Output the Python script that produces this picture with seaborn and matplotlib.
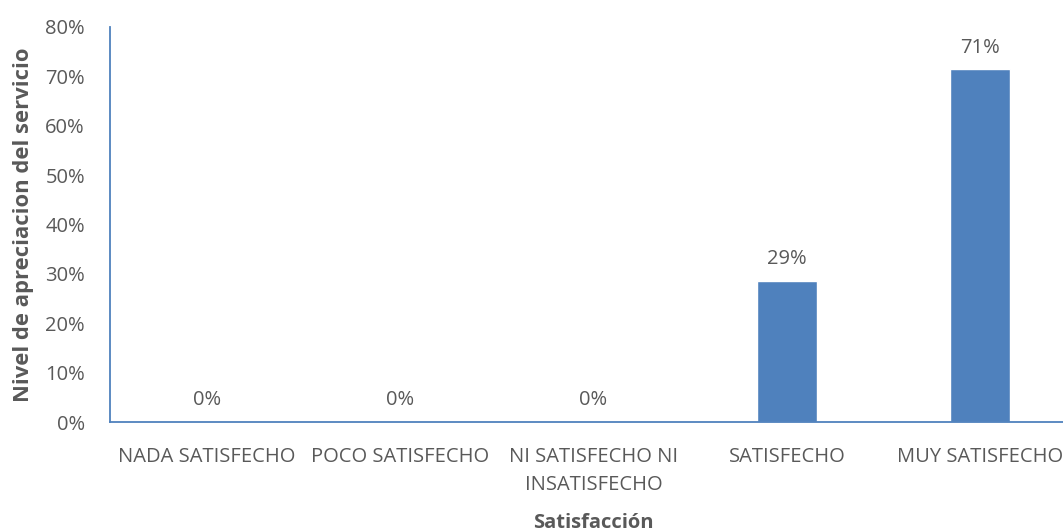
import matplotlib
matplotlib.use("Agg")
import matplotlib.pyplot as plt
import seaborn as sns
import pandas as pd

categories = ["NADA SATISFECHO", "POCO SATISFECHO", "NI SATISFECHO NI\nINSATISFECHO",
              "SATISFECHO", "MUY SATISFECHO"]
values = [0.0, 0.0, 0.0, 0.2857, 0.7143]
labels = ["0%", "0%", "0%", "29%", "71%"]
yticks = [0, 0.1, 0.2, 0.3, 0.4, 0.5, 0.6, 0.7, 0.8]

sns.set_theme(style="white")
plt.rcParams['font.family'] = ['Open Sans', 'DejaVu Sans']

df = pd.DataFrame({"cat": categories, "val": values})
text_col = "#595959"
bar_col = "#4F81BD"

fig = plt.figure(figsize=(10.63, 5.31), dpi=100)
ax = fig.add_axes([110/1063, (531-422)/531, 967/1063, 395/531])
sns.barplot(data=df, x="cat", y="val", color=bar_col, width=0.31, ax=ax, saturation=1)
ax.set_xlim(-0.5, 4.5)
ax.set_ylim(0, 0.8)
ax.set_yticks(yticks)
ax.set_yticklabels([f"{int(round(t*100))}%" for t in yticks])
ax.tick_params(axis='both', length=0, colors=text_col, labelsize=14.5)
ax.tick_params(axis='y', pad=18)
ax.tick_params(axis='x', pad=18)
plt.setp(ax.get_xticklabels(), linespacing=1.5)
for s in ["top", "right"]:
    ax.spines[s].set_visible(False)
for s in ["left", "bottom"]:
    ax.spines[s].set_color(bar_col)
    ax.spines[s].set_linewidth(1.3)
for i, (v, l) in enumerate(zip(values, labels)):
    ax.annotate(l, (i, v), xytext=(0, 8.5), textcoords="offset points",
                ha="center", va="bottom", fontsize=14.5, color=text_col)
ax.set_xlabel("Satisfacción", fontsize=14.5, fontweight="bold", color=text_col, labelpad=13)
ax.set_ylabel("Nivel de apreciacion del servicio", fontsize=15.8, fontweight="bold", color=text_col, labelpad=8)
fig.savefig("out.png", dpi=100)
